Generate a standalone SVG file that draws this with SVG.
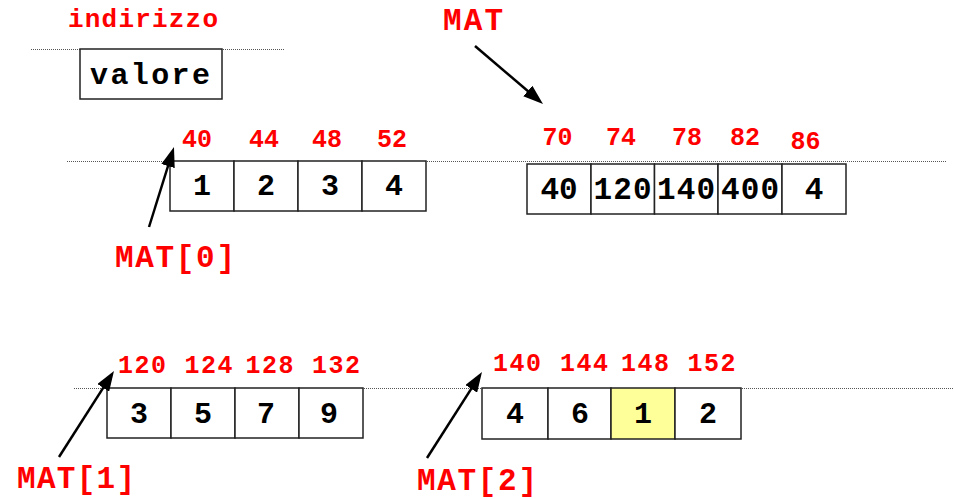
<svg xmlns="http://www.w3.org/2000/svg" width="955" height="499" viewBox="0 0 955 499">
  <defs>
    <style>
      .guide { stroke: #555; stroke-width: 1; stroke-dasharray: 1 1; fill: none; }
      .cell { fill: #fff; stroke: #222; stroke-width: 1.5; }
      .hl { fill: #ffff99; }
      .val { font-family: "Liberation Mono", "Courier New", monospace; font-weight: bold; font-size: 30px; fill: #000; text-anchor: middle; }
      .addr { font-family: "Liberation Mono", "Courier New", monospace; font-weight: bold; font-size: 25px; fill: #ff0000; text-anchor: middle; }
      .name { font-family: "Liberation Mono", "Courier New", monospace; font-weight: bold; font-size: 31px; fill: #ff0000; }
      .ptr { stroke: #000; stroke-width: 2.5; fill: none; marker-end: url(#head); }
    </style>
    <marker id="head" viewBox="0 0 20 14" refX="10" refY="7" markerWidth="20" markerHeight="14" markerUnits="userSpaceOnUse" orient="auto">
      <path d="M0,0 L20,7 L0,14 z" fill="#000"/>
    </marker>
  </defs>

  <rect width="955" height="499" fill="#fff"/>

  <!-- memory-row guide lines -->
  <g id="guides">
    <line class="guide" x1="31" y1="49.5" x2="285" y2="49.5"/>
    <line class="guide" x1="67" y1="161.5" x2="946" y2="161.5"/>
    <line class="guide" x1="74" y1="388.5" x2="953" y2="388.5"/>
  </g>

  <!-- legend: address above, value in the box -->
  <g id="legend">
    <text class="name" x="68" y="27" style="font-size:26px" textLength="150" lengthAdjust="spacing">indirizzo</text>
    <rect class="cell" x="80" y="49" width="142" height="50"/>
    <text class="val" x="90" y="84" style="font-size:30px;text-anchor:start" textLength="120" lengthAdjust="spacing">valore</text>
  </g>

  <!-- row MAT[0] at address 40 -->
  <g id="row0">
    <rect class="cell" x="170" y="161" width="64" height="50"/>
    <rect class="cell" x="234" y="161" width="64" height="50"/>
    <rect class="cell" x="298" y="161" width="64" height="50"/>
    <rect class="cell" x="362" y="161" width="64" height="50"/>
    <text class="val" x="202" y="195">1</text>
    <text class="val" x="266" y="195">2</text>
    <text class="val" x="330" y="195">3</text>
    <text class="val" x="394" y="195">4</text>
    <text class="addr" x="197" y="147">40</text>
    <text class="addr" x="264" y="147">44</text>
    <text class="addr" x="327" y="147">48</text>
    <text class="addr" x="392" y="147">52</text>
  </g>

  <!-- pointer array MAT at address 70 -->
  <g id="mat">
    <rect class="cell" x="527" y="164" width="64" height="50"/>
    <rect class="cell" x="591" y="164" width="63.5" height="50"/>
    <rect class="cell" x="654.5" y="164" width="63.5" height="50"/>
    <rect class="cell" x="718" y="164" width="64" height="50"/>
    <rect class="cell" x="782" y="164" width="64" height="50"/>
    <text class="val" x="559" y="199" style="font-size:31px">40</text>
    <text class="val" x="622.5" y="199" style="font-size:31px" textLength="58" lengthAdjust="spacing">120</text>
    <text class="val" x="686" y="199" style="font-size:31px" textLength="58" lengthAdjust="spacing">140</text>
    <text class="val" x="750" y="199" style="font-size:31px" textLength="58" lengthAdjust="spacing">400</text>
    <text class="val" x="814" y="199" style="font-size:31px">4</text>
    <text class="addr" x="557.5" y="144.5">70</text>
    <text class="addr" x="621" y="144.5">74</text>
    <text class="addr" x="687" y="144.5">78</text>
    <text class="addr" x="745" y="144.5">82</text>
    <text class="addr" x="805.5" y="149">86</text>
  </g>

  <!-- row MAT[1] at address 120 -->
  <g id="row1">
    <rect class="cell" x="107" y="388" width="64" height="50"/>
    <rect class="cell" x="171" y="388" width="64" height="50"/>
    <rect class="cell" x="235" y="388" width="64" height="50"/>
    <rect class="cell" x="299" y="388" width="64" height="50"/>
    <text class="val" x="139" y="423">3</text>
    <text class="val" x="203" y="423">5</text>
    <text class="val" x="266" y="423">7</text>
    <text class="val" x="329" y="423">9</text>
    <text class="addr" x="142" y="373" textLength="48" lengthAdjust="spacing">120</text>
    <text class="addr" x="208.5" y="373" textLength="48" lengthAdjust="spacing">124</text>
    <text class="addr" x="269.5" y="373" textLength="48" lengthAdjust="spacing">128</text>
    <text class="addr" x="336" y="373" textLength="48" lengthAdjust="spacing">132</text>
  </g>

  <!-- row MAT[2] at address 140, element MAT[2][2] highlighted -->
  <g id="row2">
    <rect class="cell" x="482" y="388" width="66" height="51"/>
    <rect class="cell" x="548" y="388" width="63" height="51"/>
    <rect class="cell hl" x="611" y="388" width="64" height="51"/>
    <rect class="cell" x="675" y="388" width="66" height="51"/>
    <text class="val" x="515" y="423">4</text>
    <text class="val" x="580" y="423">6</text>
    <text class="val" x="643" y="423">1</text>
    <text class="val" x="708" y="423">2</text>
    <text class="addr" x="517" y="371" textLength="48" lengthAdjust="spacing">140</text>
    <text class="addr" x="584" y="371" textLength="48" lengthAdjust="spacing">144</text>
    <text class="addr" x="645" y="371" textLength="48" lengthAdjust="spacing">148</text>
    <text class="addr" x="711.5" y="371" textLength="48" lengthAdjust="spacing">152</text>
  </g>

  <!-- pointer names -->
  <g id="labels">
    <text class="name" x="443" y="30" textLength="60" lengthAdjust="spacing">MAT</text>
    <text class="name" x="115" y="267" textLength="120" lengthAdjust="spacing">MAT[0]</text>
    <text class="name" x="17" y="488" textLength="118" lengthAdjust="spacing">MAT[1]</text>
    <text class="name" x="417" y="490" textLength="120" lengthAdjust="spacing">MAT[2]</text>
  </g>

  <!-- pointer arrows -->
  <g id="connectors">
    <line class="ptr" x1="475" y1="46" x2="535.4" y2="97.5"/>
    <line class="ptr" x1="149" y1="227" x2="171" y2="156.5"/>
    <line class="ptr" x1="59" y1="457" x2="108.6" y2="379.4"/>
    <line class="ptr" x1="427" y1="458" x2="476.6" y2="380.4"/>
  </g>
</svg>
